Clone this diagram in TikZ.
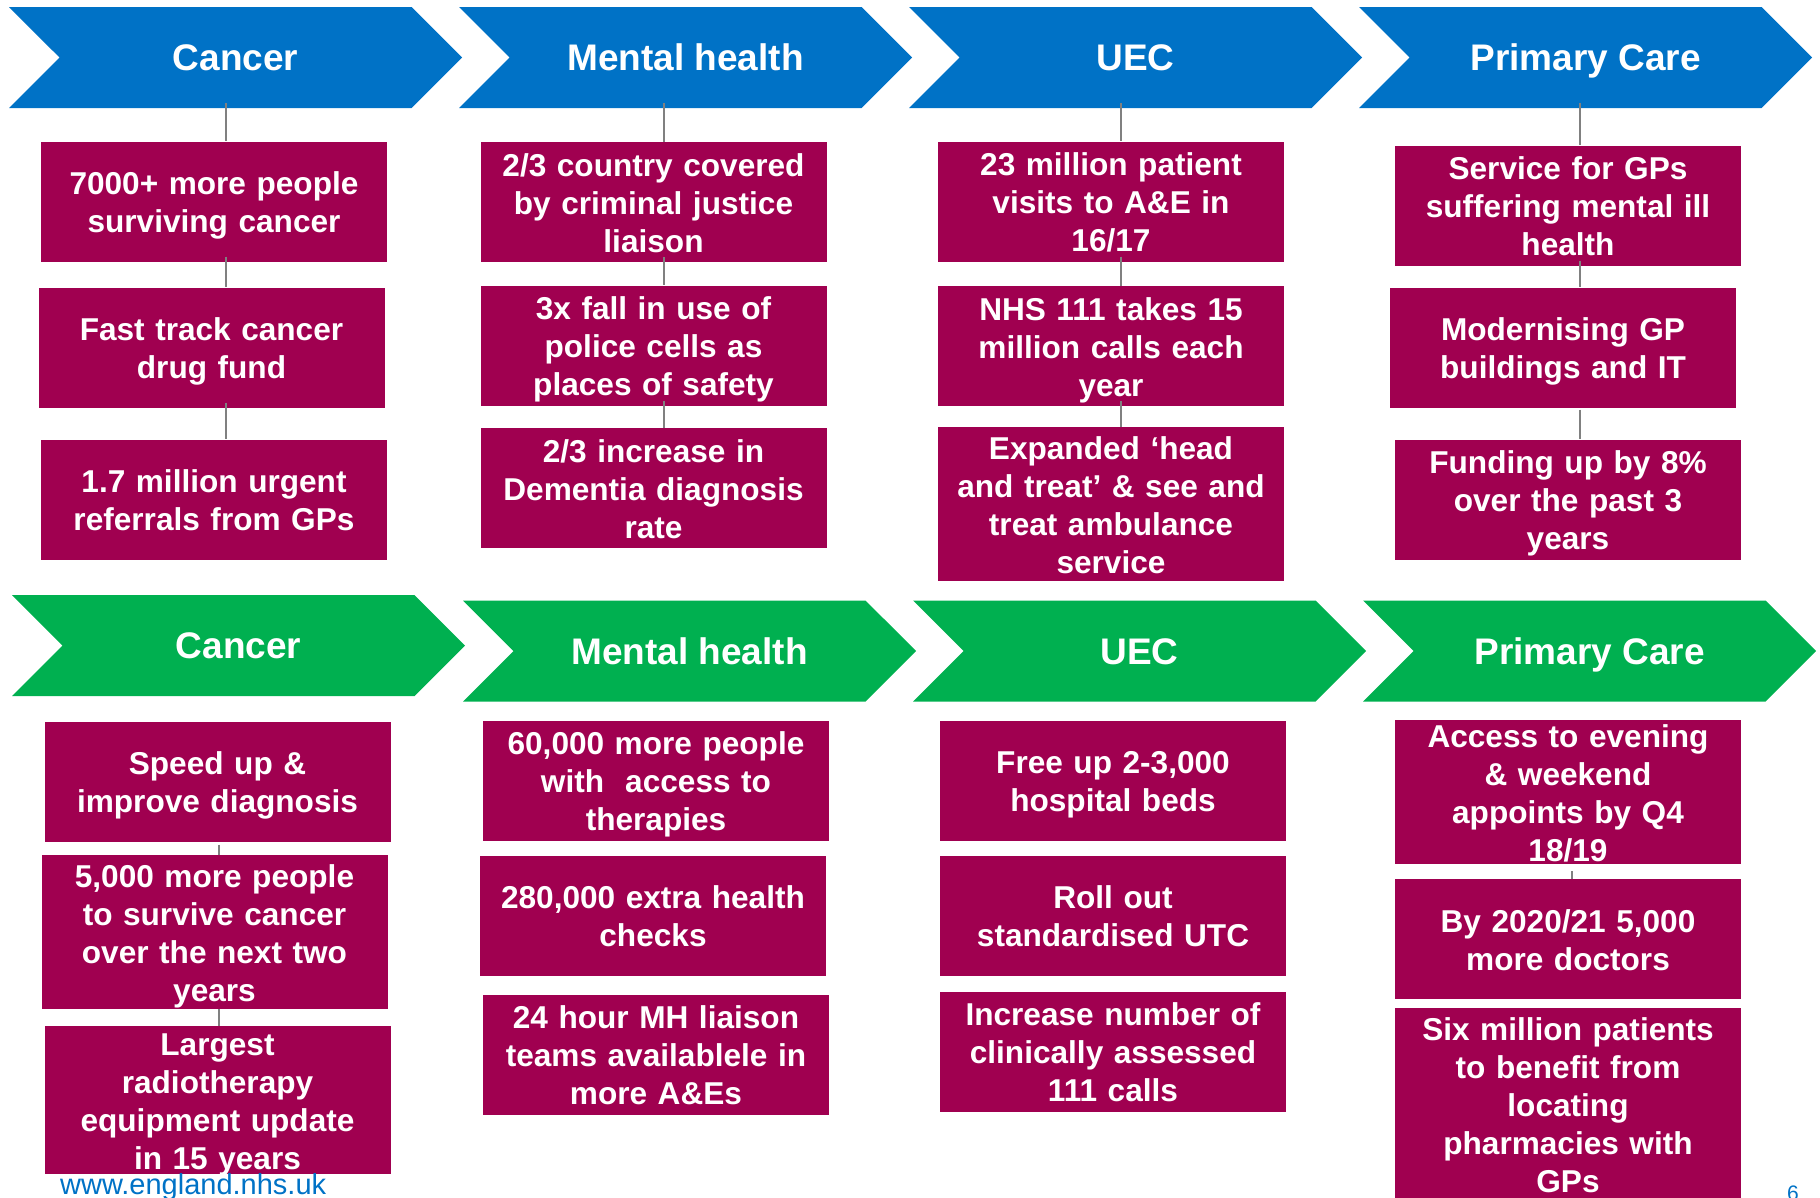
\documentclass[tikz,border=0pt]{standalone}
\usepackage{fontspec}
\setmainfont{Liberation Sans}
\usepackage{tikz}
\usetikzlibrary{shapes.symbols,positioning}
\definecolor{nhsblue}{RGB}{0,114,198}
\definecolor{nhsgreen}{RGB}{0,176,80}
\definecolor{factred}{RGB}{160,0,80}
\definecolor{linkgray}{RGB}{128,128,128}
\newcommand{\topstrut}{\rule{0pt}{31pt}}
\newcommand{\botstrut}{\rule[-7pt]{0pt}{7pt}}
\tikzstyle{link}=[draw,linkgray,line width=1.3pt,shorten <=-5pt]
\tikzstyle{banner} =
  [signal, signal from=west, signal to=east, inner sep=0pt,
   minimum width=453pt, minimum height=101pt, text=white,
   font=\bfseries\fontsize{37pt}{44pt}\selectfont,
   text height=26.5pt, text depth=0pt]
\tikzstyle{fact} =
  [rectangle, fill=factred, text=white, inner sep=0pt,
   text width=346pt, align=center, minimum height=120pt,
   font=\bfseries\fontsize{31.6pt}{38pt}\selectfont,
   execute at begin node=\topstrut,
   execute at end node=\botstrut]
\tikzstyle{footer}=[anchor=base west, inner sep=0pt, text=nhsblue]

\begin{document}
\begin{tikzpicture}[x=1pt, y=-1pt]
  \useasboundingbox (0,0) rectangle (1820,1197);

  % first row: where we are now
  \node [banner, fill=nhsblue] (ha) at (235.5,57.5) {Cancer};
  \node [banner, fill=nhsblue] (hb) at (685.5,57.5) {Mental health};
  \node [banner, fill=nhsblue] (hc) at (1135.5,57.5) {UEC};
  \node [banner, fill=nhsblue] (hd) at (1585.5,57.5) {Primary Care};

  \node [fact] (a1) at (214,201.5) {7000+ more people\\surviving cancer};
  \node [fact, below of=a1, node distance=146pt, xshift=-2.5pt] (a2)
    {Fast track cancer\\drug fund};
  \node [fact, below of=a2, node distance=152pt, xshift=2.5pt] (a3)
    {1.7 million urgent\\referrals from GPs};

  \node [fact] (b1) at (653.5,202)
    {2/3 country covered\\by criminal justice\\liaison};
  \node [fact, below of=b1, node distance=143.5pt] (b2)
    {3x fall in use of\\police cells as\\places of safety};
  \node [fact, below of=b2, node distance=142.5pt] (b3)
    {2/3 increase in\\Dementia diagnosis\\rate};

  \node [fact] (c1) at (1111,201.5)
    {23 million patient\\visits to A\&E in\\16/17};
  \node [fact, below of=c1, node distance=144.5pt] (c2)
    {NHS 111 takes 15\\million calls each\\year};
  \node [fact, below of=c2, node distance=158pt, minimum height=154pt] (c3)
    {Expanded ‘head\\and treat’ \& see and\\treat ambulance\\service};

  \node [fact] (d1) at (1568,205.5)
    {Service for GPs\\suffering mental ill\\health};
  \node [fact, below of=d1, node distance=142pt, xshift=-5pt] (d2)
    {Modernising GP\\buildings and IT};
  \node [fact, below of=d2, node distance=152pt, xshift=5pt] (d3)
    {Funding up by 8\%\\over the past 3\\years};

  % second row: what comes next
  \node [banner, fill=nhsgreen] (he) at (238.5,645.5) {Cancer};
  \node [banner, fill=nhsgreen] (hf) at (689.5,651) {Mental health};
  \node [banner, fill=nhsgreen] (hg) at (1139.5,651) {UEC};
  \node [banner, fill=nhsgreen] (hh) at (1589.5,651) {Primary Care};

  \node [fact] (e1) at (217.5,781.5) {Speed up \&\\improve diagnosis};
  \node [fact, below of=e1, node distance=150.5pt, xshift=-3pt,
    minimum height=154pt] (e2)
    {5,000 more people\\to survive cancer\\over the next two\\years};
  \node [fact, below of=e2, node distance=168pt, xshift=3pt,
    minimum height=148pt, inner ysep=-2pt] (e3)
    {Largest\\radiotherapy\\equipment update\\in 15 years};

  \node [fact] (f1) at (656,780.5)
    {60,000 more people\\with\ \ access to\\therapies};
  \node [fact, below of=f1, node distance=135pt, xshift=-3pt] (f2)
    {280,000 extra health\\checks};
  \node [fact, below of=f2, node distance=139pt, xshift=3pt] (f3)
    {24 hour MH liaison\\teams availablele in\\more A\&Es};

  \node [fact] (g1) at (1113,780.5) {Free up 2-3,000\\hospital beds};
  \node [fact, below of=g1, node distance=135pt] (g2)
    {Roll out\\standardised UTC};
  \node [fact, below of=g2, node distance=136pt] (g3)
    {Increase number of\\clinically assessed\\111 calls};

  \node [fact, minimum height=144pt, inner ysep=-4pt] (h1) at (1568,792)
    {Access to evening\\\& weekend\\appoints by Q4\\18/19};
  \node [fact, below of=h1, node distance=147pt] (h2)
    {By 2020/21 5,000\\more doctors};
  \node [fact, below of=h2, node distance=165pt, minimum height=192pt] (h3)
    {Six million patients\\to benefit from\\locating\\pharmacies with\\GPs};

  % connector lines
  \coordinate (xa) at (226,0);
  \coordinate (xb) at (664,0);
  \coordinate (xc) at (1121,0);
  \coordinate (xd) at (1580,0);
  \coordinate (xe) at (219,0);
  \coordinate (xh) at (1572,0);

  \draw [link] (ha.south -| xa) -- (a1.north -| xa);
  \draw [link] (a1.south -| xa) -- (a2.north -| xa);
  \draw [link] (a2.south -| xa) -- (a3.north -| xa);
  \draw [link] (hb.south -| xb) -- (b1.north -| xb);
  \draw [link] (b1.south -| xb) -- (b2.north -| xb);
  \draw [link] (b2.south -| xb) -- (b3.north -| xb);
  \draw [link] (hc.south -| xc) -- (c1.north -| xc);
  \draw [link] (c1.south -| xc) -- (c2.north -| xc);
  \draw [link] (c2.south -| xc) -- (c3.north -| xc);
  \draw [link] (hd.south -| xd) -- (d1.north -| xd);
  \draw [link] (d1.south -| xd) -- (d2.north -| xd);
  \draw [link, shorten <=2pt] (d2.south -| xd) -- (d3.north -| xd);
  \draw [link, shorten <=3pt] (e1.south -| xe) -- (e2.north -| xe);
  \draw [link, shorten <=0pt] (e2.south -| xe) -- (e3.north -| xe);
  \draw [link, shorten <=7pt] (h1.south -| xh) -- (h2.north -| xh);

  \node [footer, font=\fontsize{29pt}{34pt}\selectfont] (web) at (60,1194)
    {www.england.nhs.uk};
  \node [footer, font=\fontsize{21pt}{25pt}\selectfont] (pageno) at (1787,1200)
    {6};
\end{tikzpicture}
\end{document}
